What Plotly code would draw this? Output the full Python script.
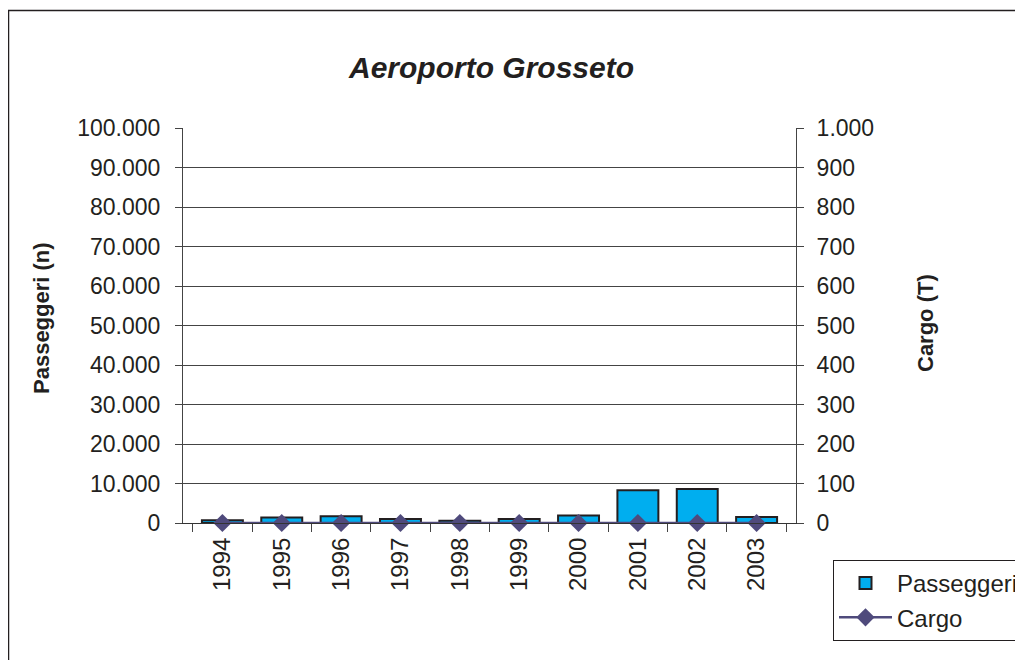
import plotly.graph_objects as go

anni = ['1994', '1995', '1996', '1997', '1998', '1999', '2000', '2001', '2002', '2003']
passeggeri = [700, 1400, 1700, 1000, 600, 1000, 1900, 8300, 8600, 1500]
cargo = [0, 0, 0, 0, 0, 0, 0, 0, 0, 0]

FONT = 'Liberation Sans, Arial, sans-serif'

# page pixels of the plot area (the page body adds an 8px offset)
O = 8
L, R, T, B = 183, 796, 128, 523
W, H = 1023 - O, 660 - O
pw, ph = R - L, B - T


def px(x):
    return (x - L) / pw


def py(y):
    return (B - y) / ph


def label(text, x, y, size, angle=0):
    return dict(text=text, x=px(x), y=py(y), xref='paper', yref='paper',
                xanchor='center', yanchor='middle', showarrow=False,
                textangle=angle, font=dict(size=size))


fig = go.Figure()
fig.add_trace(go.Bar(
    x=anni, y=passeggeri, name='Passeggeri',
    marker=dict(color='#00AEEF', line=dict(color='#231F20', width=2)),
))
fig.add_trace(go.Scatter(
    x=anni, y=cargo, name='Cargo', yaxis='y2', mode='lines+markers',
    line=dict(color='#4F4A7C', width=2.5),
    marker=dict(symbol='diamond', size=14, color='#4F4A7C'),
    cliponaxis=False,
))

fig.update_layout(
    width=W, height=H,
    margin=dict(l=L - O, r=W - (R - O), t=T - O, b=H - (B - O), pad=0,
                autoexpand=False),
    paper_bgcolor='white', plot_bgcolor='white',
    separators=',.',
    font=dict(family=FONT, size=23, color='#231F20'),
    bargap=0.31,
    showlegend=True,
    legend=dict(
        x=px(833), y=py(560), xanchor='left', yanchor='top',
        bordercolor='#231F20', borderwidth=1,
        font=dict(size=24), tracegroupgap=0, itemwidth=53,
    ),
    xaxis=dict(
        tickangle=-90, ticks='outside', tickson='boundaries', ticklen=8,
        tickcolor='#444', showline=True, linecolor='#333', linewidth=1,
        showgrid=False, tickfont=dict(size=24), ticklabelstandoff=4,
    ),
    yaxis=dict(
        range=[0, 100000], dtick=10000, tickformat=',d',
        ticks='outside', ticklen=7, tickcolor='#444', ticklabelstandoff=10,
        showline=True, linecolor='#444', linewidth=1,
        showgrid=True, gridcolor='#444', gridwidth=1, zeroline=False,
    ),
    yaxis2=dict(
        range=[0, 1000], dtick=100, tickformat=',d', overlaying='y', side='right',
        ticks='outside', ticklen=7, tickcolor='#444', ticklabelstandoff=8,
        showline=True, linecolor='#444', linewidth=1,
        showgrid=False, zeroline=False,
    ),
    annotations=[
        label('<b><i>Aeroporto Grosseto</i></b>', 491, 67, 30),
        label('<b>Passeggeri (n)</b>', 41, 318, 22, -90),
        label('<b>Cargo (T)</b>', 925, 323, 22, -90),
    ],
    shapes=[
        dict(type='rect', xref='paper', yref='paper',
             x0=px(8.5), x1=px(1060), y0=py(10.5), y1=py(720),
             line=dict(color='#231F20', width=1.5), layer='below'),
    ],
)

fig.write_html('out.html')
